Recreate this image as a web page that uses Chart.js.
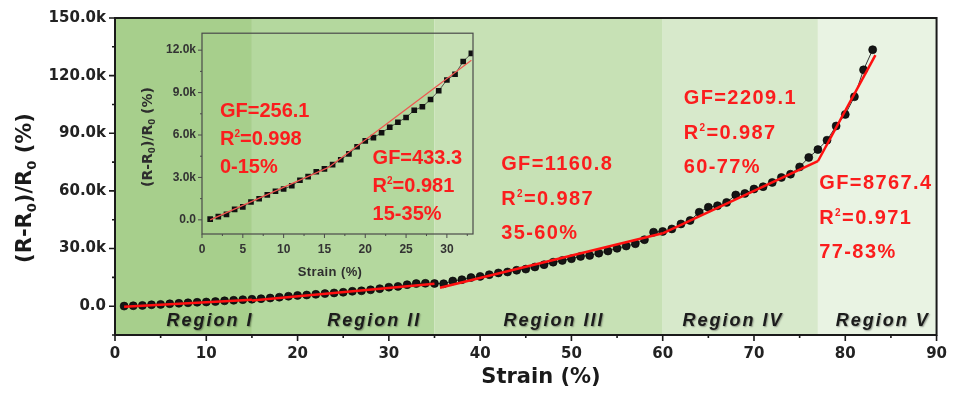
<!DOCTYPE html>
<html>
<head>
<meta charset="utf-8">
<script src="https://cdn.jsdelivr.net/npm/chart.js@4.4.1/dist/chart.umd.min.js"></script>
<style>
  html, body { margin: 0; padding: 0; background: #fff; }
  #wrap { position: relative; width: 957px; height: 394px; }
  #main { position: absolute; left: 0; top: 0; }
  #inset { position: absolute; left: 130px; top: 20px; }
</style>
</head>
<body>
<div id="wrap">
  <canvas id="main" width="957" height="394"></canvas>
  <canvas id="inset" width="350" height="270"></canvas>
</div>
<script>
// strain (%) and relative resistance change (R-R0)/R0 (%)
const strain = [1, 2, 3, 4, 5, 6, 7, 8, 9, 10, 11, 12, 13, 14, 15, 16, 17, 18, 19, 20,
  21, 22, 23, 24, 25, 26, 27, 28, 29, 30, 31, 32, 33, 34, 35, 36, 37, 38, 39, 40,
  41, 42, 43, 44, 45, 46, 47, 48, 49, 50, 51, 52, 53, 54, 55, 56, 57, 58, 59, 60,
  61, 62, 63, 64, 65, 66, 67, 68, 69, 70, 71, 72, 73, 74, 75, 76, 77, 78, 79, 80,
  81, 82, 83];
const resistance = [50, 230, 390, 740, 920, 1260, 1490, 1770, 2020, 2180,
  2410, 2800, 3060, 3400, 3610, 3910, 4250, 4670, 5170, 5590,
  5820, 6160, 6550, 6900, 7240, 7750, 8000, 8510, 9130, 9890,
  10300, 11200, 11770, 11900, 11800, 11700, 13100, 13800, 14900, 15500,
  16400, 17300, 17800, 18700, 19300, 20400, 21600, 22900, 23800, 24700,
  25900, 26400, 27600, 28700, 30100, 31300, 32500, 34600, 38500, 38900,
  40200, 42800, 44600, 48900, 51500, 52300, 54000, 57900, 58700, 61000,
  62200, 64400, 67000, 68700, 72500, 77400, 81500, 86400, 93800, 99800,
  109000, 123000, 133500];

// strain regions and their linear fits
const regionBounds = [0, 15, 35, 60, 77, 90];
const regionNames = ["Region I", "Region II", "Region III", "Region IV", "Region V"];
const gaugeFactors = ["256.1", "433.3", "1160.8", "2209.1", "8767.4"];
const rSquared = ["0.998", "0.981", "0.987", "0.987", "0.971"];
const fitRanges = ["0-15%", "15-35%", "35-60%", "60-77%", "77-83%"];
const fitStart = [1, 15, 35.6, 60, 77];
const fitEnd = [15, 35, 60, 77, 83.3];
const fitStartValue = [-300, 3000, 9600, 37900, 75450];
const fitEndValue = [3285, 11670, 37920, 75450, 130690];

// zoomed view of the first two regions
const insetCount = 33;
const insetFitStart = [1, 15.5];
const insetFitEnd = [15.5, 33];
const insetFitStartValue = [0, 3710];
const insetFitEndValue = [3710, 11290];

// tick labels
const mainXTicks = [0, 10, 20, 30, 40, 50, 60, 70, 80, 90];
const mainYTicks = [0, 30000, 60000, 90000, 120000, 150000];
const insetXTicks = [0, 5, 10, 15, 20, 25, 30];
const insetYTicks = [0, 3000, 6000, 9000, 12000];

const regionColors = ["#a7cf8c", "#b4d89e", "#c7e1b5", "#d7e9cb", "#e9f3e3"];
const RED = "#fb1d1d";

function kLabel(v) {
  return v === 0 ? "0.0" : (v / 1000).toFixed(1) + "k";
}

function fixedTicks(values) {
  return scale => { scale.ticks = values.map(v => ({ value: v })); };
}

// text with '₀' drawn as a subscript and '²' as a superscript
function drawRich(ctx, text, x, y, opt) {
  const runs = [];
  for (const ch of text) {
    const kind = ch === "₀" ? "sub" : ch === "²" ? "sup" : "n";
    const c = kind === "sub" ? "0" : kind === "sup" ? "2" : ch;
    const last = runs[runs.length - 1];
    if (last && last.kind === kind) last.t += c;
    else runs.push({ kind, t: c });
  }
  const fontFor = k => {
    const s = k === "n" ? opt.size : k === "sub" ? opt.size * 0.62 : opt.size * 0.5;
    return `${opt.italic ? "italic " : ""}bold ${s}px ${opt.family}`;
  };
  ctx.letterSpacing = (opt.spacing || 0) + "px";
  let w = 0;
  runs.forEach(r => { ctx.font = fontFor(r.kind); r.w = ctx.measureText(r.t).width; w += r.w; });
  let cx = opt.align === "center" ? x - w / 2 : x;
  ctx.textAlign = "left";
  ctx.textBaseline = "middle";
  runs.forEach(r => {
    ctx.font = fontFor(r.kind);
    const dy = r.kind === "sub" ? opt.size * 0.33 : r.kind === "sup" ? -opt.size * 0.25 : 0;
    ctx.fillText(r.t, cx, y + dy);
    cx += r.w;
  });
  ctx.letterSpacing = "0px";
}

function drawFrame(chart, o) {
  const { ctx, chartArea: a, scales: { x, y } } = chart;
  ctx.save();
  ctx.strokeStyle = o.color;
  ctx.lineWidth = o.width;
  ctx.strokeRect(a.left, a.top, a.right - a.left, a.bottom - a.top);
  ctx.lineWidth = o.tickWidth;
  ctx.beginPath();
  for (let v = Math.ceil(x.min / o.xMinor) * o.xMinor; v <= x.max + 1e-9; v += o.xMinor) {
    const px = x.getPixelForValue(v);
    const len = Math.abs(v / o.xMajor - Math.round(v / o.xMajor)) < 1e-6 ? o.major : o.minor;
    ctx.moveTo(px, a.bottom);
    ctx.lineTo(px, a.bottom + len);
  }
  for (let v = Math.ceil(y.min / o.yMinor) * o.yMinor; v <= y.max + 1e-9; v += o.yMinor) {
    const py = y.getPixelForValue(v);
    const len = Math.abs(v / o.yMajor - Math.round(v / o.yMajor)) < 1e-6 ? o.major : o.minor;
    ctx.moveTo(a.left, py);
    ctx.lineTo(a.left - len, py);
  }
  ctx.stroke();
  ctx.restore();
}

const regionPlugin = {
  id: "regions",
  beforeDatasetsDraw(chart) {
    const { ctx, chartArea: a, scales: { x } } = chart;
    ctx.save();
    regionColors.forEach((c, i) => {
      const x0 = x.getPixelForValue(regionBounds[i]);
      const x1 = x.getPixelForValue(regionBounds[i + 1]);
      ctx.fillStyle = c;
      ctx.fillRect(x0, a.top, x1 - x0, a.bottom - a.top);
    });
    ctx.restore();
  }
};

// label anchors in data units: first line of each fit label, region label centres
const mainNoteAt = { 2: [42.3, 73700], 3: [62.3, 107900], 4: [77.15, 63800] };
const regionLabelX = [10.4, 28.4, 48.1, 67.7, 84.1];
const regionLabelY = -7800;

const mainDecor = {
  id: "mainDecor",
  afterDatasetsDraw(chart) {
    const { ctx, scales: { x, y } } = chart;
    ctx.save();
    ctx.fillStyle = RED;
    Object.keys(mainNoteAt).forEach(k => {
      const [vx, vy] = mainNoteAt[k];
      const px = x.getPixelForValue(vx), py = y.getPixelForValue(vy);
      const lines = ["GF=" + gaugeFactors[k], "R²=" + rSquared[k], fitRanges[k]];
      lines.forEach((t, j) => drawRich(ctx, t, px, py + j * 34.5,
        { size: 20, family: "'Liberation Sans', Arial, sans-serif", spacing: 1.4 }));
    });
    ctx.fillStyle = "#1c1c1c";
    ctx.shadowColor = "rgba(0,0,0,0.35)";
    ctx.shadowOffsetX = 1;
    ctx.shadowOffsetY = 1;
    ctx.shadowBlur = 1.5;
    regionNames.forEach((t, i) => {
      drawRich(ctx, t, x.getPixelForValue(regionLabelX[i]), y.getPixelForValue(regionLabelY),
        { size: 18, family: "'Liberation Sans', Arial, sans-serif", italic: true, spacing: 2, align: "center" });
    });
    ctx.restore();
  },
  afterDraw(chart) {
    drawFrame(chart, { color: "#1a1a1a", width: 2, tickWidth: 1.6, major: 6, minor: 3,
      xMajor: 10, xMinor: 5, yMajor: 30000, yMinor: 15000 });
    const { ctx } = chart;
    ctx.save();
    ctx.fillStyle = "#1a1a1a";
    drawRich(ctx, "Strain (%)", 541, 378,
      { size: 21, family: "'DejaVu Sans', sans-serif", align: "center" });
    ctx.translate(26, 188);
    ctx.rotate(-Math.PI / 2);
    drawRich(ctx, "(R-R₀)/R₀ (%)", 0, 0,
      { size: 21, family: "'DejaVu Sans', sans-serif", align: "center" });
    ctx.restore();
  }
};

const tickFont = { family: "'DejaVu Sans', sans-serif", size: 15, weight: "bold" };

new Chart(document.getElementById("main"), {
  type: "line",
  data: {
    datasets: [
      ...fitStart.map((s, i) => ({
        data: [{ x: s, y: fitStartValue[i] }, { x: fitEnd[i], y: fitEndValue[i] }],
        borderColor: "#ff1010",
        borderWidth: 2.5,
        pointRadius: 0,
        order: 1
      })),
      {
        data: strain.map((s, i) => ({ x: s, y: resistance[i] })),
        borderColor: "#333",
        borderWidth: 1,
        pointRadius: 4,
        pointBackgroundColor: "#151515",
        pointBorderColor: "#000",
        pointBorderWidth: 0.6,
        order: 2
      }
    ]
  },
  options: {
    responsive: false,
    animation: false,
    layout: { padding: { top: 17, right: 12, left: 0, bottom: 0 } },
    plugins: { legend: { display: false }, tooltip: { enabled: false } },
    scales: {
      x: {
        type: "linear", min: 0, max: 90,
        grid: { display: false, drawTicks: false },
        border: { display: false },
        ticks: { padding: 10, color: "#222", font: tickFont, maxRotation: 0, autoSkip: false },
        afterBuildTicks: fixedTicks(mainXTicks),
        afterFit: s => { s.height = 59; }
      },
      y: {
        type: "linear", min: -15000, max: 150000,
        grid: { display: false, drawTicks: false },
        border: { display: false },
        ticks: { padding: 9, color: "#222", font: tickFont, autoSkip: false, callback: v => kLabel(v) },
        afterBuildTicks: fixedTicks(mainYTicks),
        afterFit: s => { s.width = 115; }
      }
    }
  },
  plugins: [regionPlugin, mainDecor]
});

// inset: first 33 points
const insetNoteAt = { 0: [2.2, 7660], 1: [20.9, 4340] };

const insetDecor = {
  id: "insetDecor",
  afterDatasetsDraw(chart) {
    const { ctx, scales: { x, y } } = chart;
    ctx.save();
    ctx.fillStyle = RED;
    Object.keys(insetNoteAt).forEach(k => {
      const [vx, vy] = insetNoteAt[k];
      const px = x.getPixelForValue(vx), py = y.getPixelForValue(vy);
      const lines = ["GF=" + gaugeFactors[k], "R²=" + rSquared[k], fitRanges[k]];
      lines.forEach((t, j) => drawRich(ctx, t, px, py + j * 27.8,
        { size: 20, family: "'Liberation Sans', Arial, sans-serif" }));
    });
    ctx.restore();
  },
  afterDraw(chart) {
    drawFrame(chart, { color: "#4a4a4a", width: 1.2, tickWidth: 1, major: 4, minor: 2,
      xMajor: 5, xMinor: 2.5, yMajor: 3000, yMinor: 1500 });
    const { ctx } = chart;
    ctx.save();
    ctx.fillStyle = "#2e2e2e";
    drawRich(ctx, "Strain (%)", 200, 252,
      { size: 13, family: "'Liberation Sans', Arial, sans-serif", spacing: 0.4, align: "center" });
    ctx.translate(18, 117);
    ctx.rotate(-Math.PI / 2);
    drawRich(ctx, "(R-R₀)/R₀ (%)", 0, 0,
      { size: 14, family: "'DejaVu Sans', sans-serif", align: "center" });
    ctx.restore();
  }
};

const insetTickFont = { family: "'Liberation Sans', Arial, sans-serif", size: 12, weight: "bold" };

new Chart(document.getElementById("inset"), {
  type: "line",
  data: {
    datasets: [
      ...insetFitStart.map((s, i) => ({
        data: [{ x: s, y: insetFitStartValue[i] }, { x: insetFitEnd[i], y: insetFitEndValue[i] }],
        borderColor: "#f0554f",
        borderWidth: 1.2,
        pointRadius: 0,
        order: 1
      })),
      {
        data: strain.slice(0, insetCount).map((s, i) => ({ x: s, y: resistance[i] })),
        borderColor: "#333",
        borderWidth: 0.8,
        pointStyle: "rect",
        pointRadius: 4,
        pointBackgroundColor: "#111",
        pointBorderWidth: 0,
        order: 2
      }
    ]
  },
  options: {
    responsive: false,
    animation: false,
    layout: { padding: { top: 9, right: 7, left: 0, bottom: 0 } },
    plugins: { legend: { display: false }, tooltip: { enabled: false } },
    scales: {
      x: {
        type: "linear", min: 0, max: 33.2,
        grid: { display: false, drawTicks: false },
        border: { display: false },
        ticks: { padding: 8, color: "#333", font: insetTickFont, maxRotation: 0, autoSkip: false },
        afterBuildTicks: fixedTicks(insetXTicks),
        afterFit: s => { s.height = 56; }
      },
      y: {
        type: "linear", min: -1000, max: 13200,
        grid: { display: false, drawTicks: false },
        border: { display: false },
        ticks: { padding: 6, color: "#333", font: insetTickFont, autoSkip: false, callback: v => kLabel(v) },
        afterBuildTicks: fixedTicks(insetYTicks),
        afterFit: s => { s.width = 72; }
      }
    }
  },
  plugins: [insetDecor]
});
</script>
</body>
</html>
